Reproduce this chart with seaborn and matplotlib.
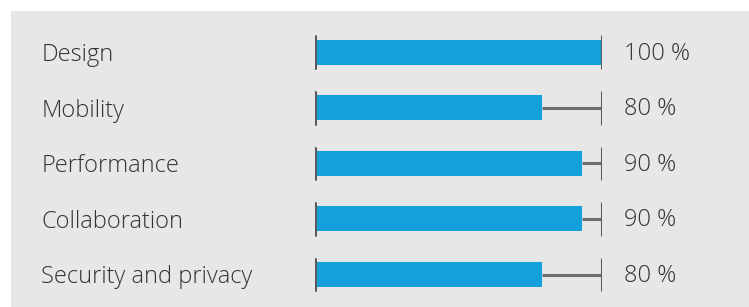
import matplotlib
matplotlib.use("Agg")
import matplotlib.pyplot as plt
import pandas as pd
import seaborn as sns

# Chart data (bar lengths as drawn in the picture, labels as printed)
categories = ["Design", "Mobility", "Performance", "Collaboration", "Security and privacy"]
values = [100, 79, 93, 93, 79]
value_labels = ["100 %", "80 %", "90 %", "90 %", "80 %"]
max_value = 100

sns.set_style("white")
plt.rcParams["font.family"] = ["Open Sans", "DejaVu Sans"]

bar_color = "#14a0db"
bg_color = "#e6e7e6"
text_color = "#333333"
tick_color = "#58595b"

df = pd.DataFrame({"category": categories, "value": values})

fig = plt.figure(figsize=(7.49, 3.07), dpi=100)
fig.patch.set_facecolor("white")
# gray panel behind the chart
fig.patches.append(plt.Rectangle((11 / 749, 0), 1, 1 - 11 / 307,
                                 transform=fig.transFigure, facecolor=bg_color,
                                 edgecolor="none", zorder=-10))

ax = fig.add_axes([315 / 749, 1 - 302.3 / 307, 287 / 749, 277.8 / 307])
ax.set_facecolor("none")

sns.barplot(data=df, x="value", y="category", color=bar_color, width=0.45,
            saturation=1, linewidth=0, ax=ax, zorder=2)

for i, (cat, v, lab) in enumerate(zip(categories, values, value_labels)):
    # thin line to the max
    ax.plot([v, max_value], [i, i], color="#6d6e71", lw=2.2, zorder=1,
            solid_capstyle="butt")
    # end ticks
    ax.plot([0, 0], [i - 0.285, i + 0.285], color=tick_color, lw=2.2, zorder=3)
    ax.plot([max_value, max_value], [i - 0.285, i + 0.285], color=tick_color, lw=2.2, zorder=3)
    ax.text(-95.3, i + 0.16, cat, ha="left", va="baseline", fontsize=17,
            fontweight="light", color=text_color)
    ax.text(107.5, i + 0.135, lab, ha="left", va="baseline", fontsize=17,
            fontweight="light", color=text_color)

ax.set_xlim(0, max_value)
ax.set_ylim(4.5, -0.5)
ax.set_xlabel("")
ax.set_ylabel("")
ax.set_xticks([])
ax.set_yticks([])
sns.despine(ax=ax, left=True, bottom=True)

fig.savefig("out.png", dpi=100, facecolor="white")
